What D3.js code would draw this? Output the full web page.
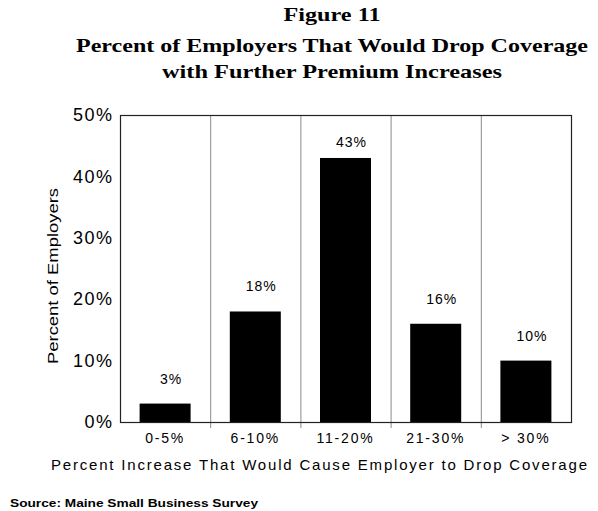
<!DOCTYPE html>
<html>
<head>
<meta charset="utf-8">
<script src="https://cdn.jsdelivr.net/npm/d3@7"></script>
<style>
  body { margin: 0; background: #fff; }
  svg { display: block; }
  .title { font-family: "Liberation Serif", "DejaVu Serif", serif; font-weight: bold; font-size: 19px; fill: #000; }
  .tick text { font-family: "Liberation Sans", Arial, sans-serif; fill: #000; }
</style>
</head>
<body>
<svg width="598" height="511"></svg>
<script>
// categories and values
var categories = ["0-5%", "6-10%", "11-20%", "21-30%", "> 30%"];
var values = [3, 18, 43, 16, 10];
var yTicks = [0, 10, 20, 30, 40, 50];
var titleLines = ["Figure 11", "Percent of Employers That Would Drop Coverage", "with Further Premium Increases"];

var svg = d3.select("svg");
// plot box (note: "top" is reserved on window, so use plot* names)
var plotLeft = 120, plotRight = 571, plotTop = 115, plotBottom = 422;

var x = d3.scaleBand().domain(categories).range([plotLeft, plotRight]).paddingInner(0).paddingOuter(0);
var y = d3.scaleLinear().domain([0, 50]).range([plotBottom, plotTop]);

// title
var titleY = [21, 52, 78];
var titleW = [97, 512, 340];
titleLines.forEach(function(t, i) {
	svg.append("text")
		.attr("class", "title")
		.attr("x", 332)
		.attr("y", titleY[i])
		.attr("text-anchor", "middle")
		.attr("textLength", titleW[i])
		.attr("lengthAdjust", "spacingAndGlyphs")
		.text(t);
});

// category separators (gray), extending a little below the axis
categories.slice(1).forEach(function(c) {
	svg.append("line")
		.attr("x1", x(c) + 0.5).attr("x2", x(c) + 0.5)
		.attr("y1", plotTop).attr("y2", plotBottom + 6)
		.attr("stroke", "#8a8a8a").attr("stroke-width", 1);
});

// bars
var barW = 51;
svg.selectAll("rect.bar")
	.data(values)
	.enter().append("rect")
	.attr("class", "bar")
	.attr("x", function(d, i) { return x(categories[i]) + x.bandwidth() / 2 - barW / 2; })
	.attr("y", function(d) { return y(d); })
	.attr("width", barW)
	.attr("height", function(d) { return plotBottom - y(d); })
	.attr("fill", "#000");

// value labels
svg.selectAll("text.val")
	.data(values)
	.enter().append("text")
	.attr("class", "val")
	.attr("x", function(d, i) { return x(categories[i]) + x.bandwidth() / 2 + 6; })
	.attr("y", function(d) { return Math.max(y(d) - 20, plotTop + 32); })
	.attr("text-anchor", "middle")
	.attr("font-family", "Liberation Sans, Arial, sans-serif")
	.attr("font-size", 14)
	.attr("letter-spacing", 1)
	.text(function(d) { return d + "%"; });

// frame
svg.append("rect")
	.attr("x", plotLeft + 0.5).attr("y", plotTop + 0.5)
	.attr("width", plotRight - plotLeft).attr("height", plotBottom - plotTop)
	.attr("fill", "none").attr("stroke", "#222").attr("stroke-width", 1.2);

// y axis
var yAxis = svg.append("g")
	.attr("transform", "translate(" + (plotLeft + 0.5) + ",0)")
	.call(d3.axisLeft(y).tickValues(yTicks).tickSize(0).tickPadding(7).tickFormat(function(d) { return d + "%"; }));
yAxis.select(".domain").remove();
yAxis.selectAll(".tick text")
	.attr("font-size", 18)
	.attr("letter-spacing", 1.5);

// x axis
var xAxis = svg.append("g")
	.attr("transform", "translate(0," + (plotBottom + 0.5) + ")")
	.call(d3.axisBottom(x).tickSize(0).tickPadding(11));
xAxis.select(".domain").remove();
xAxis.selectAll(".tick text")
	.attr("font-size", 14)
	.attr("letter-spacing", 1.8);

// axis titles
svg.append("text")
	.attr("transform", "translate(58,276) rotate(-90)")
	.attr("text-anchor", "middle")
	.attr("font-family", "Liberation Sans, Arial, sans-serif")
	.attr("font-size", 15)
	.attr("textLength", 176)
	.attr("lengthAdjust", "spacingAndGlyphs")
	.text("Percent of Employers");

svg.append("text")
	.attr("x", 319)
	.attr("y", 470)
	.attr("text-anchor", "middle")
	.attr("font-family", "Liberation Sans, Arial, sans-serif")
	.attr("font-size", 15)
	.attr("textLength", 536)
	.attr("lengthAdjust", "spacing")
	.text("Percent Increase That Would Cause Employer to Drop Coverage");

// source note
svg.append("text")
	.attr("x", 10)
	.attr("y", 507)
	.attr("font-family", "Liberation Sans, Arial, sans-serif")
	.attr("font-size", 10)
	.attr("font-weight", "bold")
	.attr("textLength", 248)
	.attr("lengthAdjust", "spacingAndGlyphs")
	.text("Source: Maine Small Business Survey");
</script>
</body>
</html>
